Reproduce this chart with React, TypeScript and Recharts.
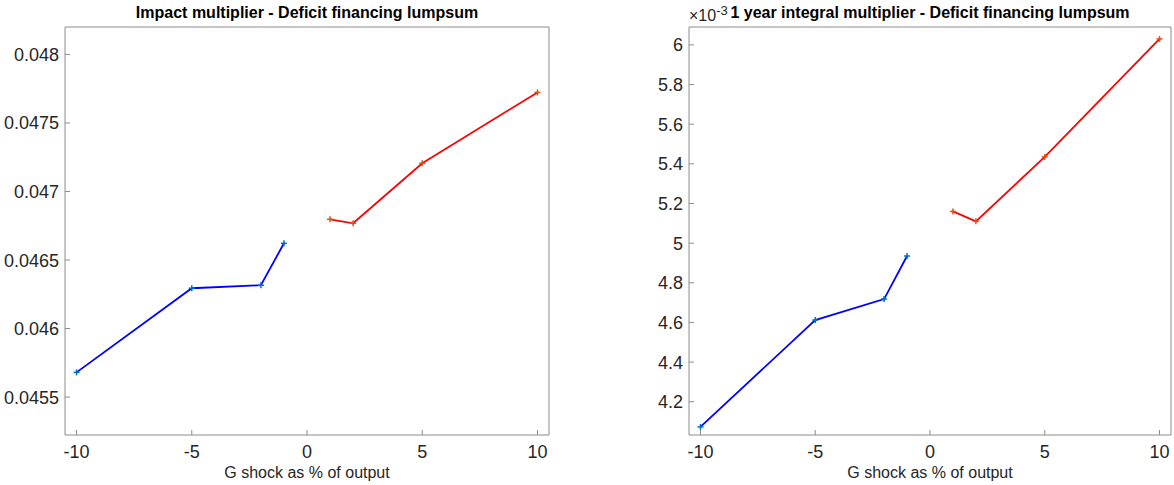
import React from "react";
import { LineChart, Line, XAxis, YAxis, ReferenceArea } from "recharts";

// ---- data ----
const shockNeg = [-10, -5, -2, -1];
const shockPos = [1, 2, 5, 10];
const impactNeg = [0.04568, 0.046294, 0.046316, 0.046622];
const impactPos = [0.046797, 0.046768, 0.047206, 0.047723];
const integralNeg = [0.004073, 0.004612, 0.004718, 0.004935];
const integralPos = [0.00516, 0.00511, 0.005435, 0.00603];

const xTicks = [-10, -5, 0, 5, 10];
const impactTicks = [0.0455, 0.046, 0.0465, 0.047, 0.0475, 0.048];
const integralTicks = [0.0042, 0.0044, 0.0046, 0.0048, 0.005, 0.0052, 0.0054, 0.0056, 0.0058, 0.006];

const title1 = "Impact multiplier - Deficit financing lumpsum";
const title2 = "1 year integral multiplier - Deficit financing lumpsum";
const xLabel = "G shock as % of output";

const toRows = (xs: number[], ys: number[]) => xs.map((x, i) => ({ x, y: ys[i] }));

const FONT = "'Liberation Sans', Arial, Helvetica, sans-serif";
const AX = "#8c8c8c";
const TXT = "#262626";
const TL = 5;
const TICK_FS = 18;

const XTickBottom = (p: any) => {
  const { x, y, payload } = p;
  return (
    <g>
      <line x1={x} y1={y} x2={x} y2={y - TL} stroke={AX} strokeWidth={1} />
      <text x={x} y={y + 23} textAnchor="middle" fontSize={TICK_FS} fill={TXT} fontFamily={FONT}>
        {payload.value}
      </text>
    </g>
  );
};
const XTickTop = (p: any) => {
  const { x, y } = p;
  return <line x1={x} y1={y} x2={x} y2={y + TL} stroke={AX} strokeWidth={1} />;
};
const makeYTickLeft = (fmt: (v: number) => string) => (p: any) => {
  const { x, y, payload } = p;
  return (
    <g>
      <line x1={x} y1={y} x2={x + TL} y2={y} stroke={AX} strokeWidth={1} />
      <text x={x - 6} y={y + 6.5} textAnchor="end" fontSize={TICK_FS} fill={TXT} fontFamily={FONT}>
        {fmt(payload.value)}
      </text>
    </g>
  );
};
const YTickRight = (p: any) => {
  const { x, y } = p;
  return <line x1={x} y1={y} x2={x - TL} y2={y} stroke={AX} strokeWidth={1} />;
};

const makeDot = (color: string) => (p: any) => {
  const { cx, cy, index } = p;
  if (cx == null || cy == null) return <g key={index} />;
  return (
    <g key={index}>
      <line x1={cx - 3} y1={cy} x2={cx + 3} y2={cy} stroke={color} strokeWidth={1.5} />
      <line x1={cx} y1={cy - 3} x2={cx} y2={cy + 3} stroke={color} strokeWidth={1.5} />
    </g>
  );
};

const fmtImpact = (v: number) => String(Number(v.toFixed(4)));
const fmtIntegral = (v: number) => String(Number((v * 1000).toFixed(1)));

type PanelProps = {
  neg: number[];
  pos: number[];
  ticks: number[];
  fmt: (v: number) => string;
  width: number;
  yWidth: number;
  right: number;
};

const Panel = ({ neg, pos, ticks, fmt, width, yWidth, right }: PanelProps) => {
  const all = [...neg, ...pos];
  const lo = Math.min(...all) * 0.99;
  const hi = Math.max(...all) * 1.01;
  return (
    <LineChart width={width} height={485} margin={{ top: 27, right, left: 0, bottom: 0 }}>
      <XAxis
        xAxisId="b"
        type="number"
        dataKey="x"
        domain={[-10.5, 10.5]}
        ticks={xTicks}
        interval={0}
        allowDataOverflow
        height={50}
        tickLine={false}
        tickSize={0}
        tickMargin={0}
        axisLine={false}
        tick={XTickBottom}
      />
      <XAxis
        xAxisId="t"
        orientation="top"
        type="number"
        dataKey="x"
        domain={[-10.5, 10.5]}
        ticks={xTicks}
        interval={0}
        allowDataOverflow
        height={0}
        tickLine={false}
        tickSize={0}
        tickMargin={0}
        axisLine={false}
        tick={XTickTop}
      />
      <YAxis
        yAxisId="l"
        type="number"
        domain={[lo, hi]}
        ticks={ticks}
        interval={0}
        allowDataOverflow
        width={yWidth}
        tickLine={false}
        tickSize={0}
        tickMargin={0}
        axisLine={false}
        tick={makeYTickLeft(fmt)}
      />
      <YAxis
        yAxisId="r"
        orientation="right"
        type="number"
        domain={[lo, hi]}
        ticks={ticks}
        interval={0}
        allowDataOverflow
        width={0}
        tickLine={false}
        tickSize={0}
        tickMargin={0}
        axisLine={false}
        tick={YTickRight}
      />
      <ReferenceArea
        xAxisId="b"
        yAxisId="l"
        x1={-10.5}
        x2={10.5}
        y1={lo}
        y2={hi}
        fill="none"
        fillOpacity={0}
        stroke={AX}
        strokeWidth={1}
        ifOverflow="visible"
      />
      <Line
        xAxisId="b"
        yAxisId="l"
        data={toRows(shockNeg, neg)}
        dataKey="y"
        type="linear"
        stroke="#0000ff"
        strokeWidth={1.8}
        dot={makeDot("#0072bd")}
        activeDot={false}
        isAnimationActive={false}
      />
      <Line
        xAxisId="b"
        yAxisId="l"
        data={toRows(shockPos, pos)}
        dataKey="y"
        type="linear"
        stroke="#ff0000"
        strokeWidth={1.8}
        dot={makeDot("#d95319")}
        activeDot={false}
        isAnimationActive={false}
      />
    </LineChart>
  );
};

const titleStyle: React.CSSProperties = {
  position: "absolute",
  top: 4,
  fontFamily: FONT,
  fontWeight: "bold",
  fontSize: 16,
  color: "#000",
  whiteSpace: "nowrap",
  transform: "translateX(-50%)",
};

const textStyle: React.CSSProperties = {
  position: "absolute",
  fontFamily: FONT,
  fontSize: 16,
  color: TXT,
  whiteSpace: "nowrap",
  transform: "translateX(-50%)",
};

export default function App() {
  return (
    <div style={{ position: "absolute", left: 0, top: 0, width: 1174, height: 485, background: "#fff", overflow: "hidden" }}>
      <div style={{ position: "absolute", left: 0, top: 0 }}>
        <Panel neg={impactNeg} pos={impactPos} ticks={impactTicks} fmt={fmtImpact} width={560} yWidth={65} right={11} />
      </div>
      <div style={{ position: "absolute", left: 620, top: 0 }}>
        <Panel neg={integralNeg} pos={integralPos} ticks={integralTicks} fmt={fmtIntegral} width={554} yWidth={69} right={3} />
      </div>
      <div style={{ ...titleStyle, left: 307 }}>{title1}</div>
      <div style={{ ...titleStyle, left: 930 }}>{title2}</div>
      <div style={{ ...textStyle, left: 307, top: 464 }}>{xLabel}</div>
      <div style={{ ...textStyle, left: 930, top: 464 }}>{xLabel}</div>
      <div style={{ position: "absolute", left: 689, top: 3, fontFamily: FONT, fontSize: 16, color: TXT, whiteSpace: "nowrap" }}>
        ×10<sup style={{ fontSize: 13 }}>-3</sup>
      </div>
    </div>
  );
}
